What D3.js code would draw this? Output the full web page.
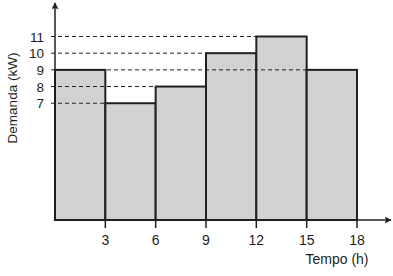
<html>
    <head>
        <meta charset="utf-8">
        <style>
            body { margin: 0; background: #fff; }
            text { font-family: "Liberation Sans", Arial, sans-serif; fill: #231f20; }
        </style>
    </head>
    <body>
        <svg width="393" height="276"></svg>
        <script src="https://cdn.jsdelivr.net/npm/d3@7/dist/d3.min.js"></script>
        <script>
            const starts = [0, 3, 6, 9, 12, 15];
            const demand = [9, 7, 8, 10, 11, 9];
            const xTicks = [3, 6, 9, 12, 15, 18];
            const yTicks = [7, 8, 9, 10, 11];

            const svg = d3.select('svg');
            const ink = '#231f20';

            const x = d3.scaleLinear().domain([0, 18]).range([55, 357]);
            const y = d3.scaleLinear().domain([0, 11]).range([220, 36.5]);

            // bars
            svg.selectAll('rect.bar')
                .data(starts)
                .enter().append('rect')
                .attr('class', 'bar')
                .attr('x', d => x(d))
                .attr('width', x(3) - x(0))
                .attr('y', (d, i) => y(demand[i]))
                .attr('height', (d, i) => y(0) - y(demand[i]))
                .attr('fill', '#d1d2d4')
                .attr('stroke', ink)
                .attr('stroke-width', 2);

            // dashed guides run to the (last) bar with that height
            const guideEnd = v => x(starts[demand.lastIndexOf(v)]);

            svg.selectAll('line.guide')
                .data(yTicks)
                .enter().append('line')
                .attr('x1', 51)
                .attr('x2', d => guideEnd(d))
                .attr('y1', d => y(d))
                .attr('y2', d => y(d))
                .attr('stroke', ink)
                .attr('stroke-width', 1)
                .attr('stroke-dasharray', '4,3');

            // axes
            svg.append('defs').append('marker')
                .attr('id', 'arrow')
                .attr('viewBox', '0 0 10 10')
                .attr('refX', 9).attr('refY', 5)
                .attr('markerWidth', 10).attr('markerHeight', 7)
                .attr('markerUnits', 'userSpaceOnUse')
                .attr('orient', 'auto')
                .append('path')
                .attr('d', 'M0,0L10,5L0,10L2,5Z')
                .attr('fill', ink);

            svg.append('line')
                .attr('x1', x(0)).attr('x2', x(0))
                .attr('y1', y(0) + 1).attr('y2', 3)
                .attr('stroke', ink).attr('stroke-width', 1.5)
                .attr('marker-end', 'url(#arrow)');

            svg.append('line')
                .attr('x1', x(0) - 1).attr('x2', 391)
                .attr('y1', y(0)).attr('y2', y(0))
                .attr('stroke', ink).attr('stroke-width', 1.5)
                .attr('marker-end', 'url(#arrow)');

            // x ticks
            svg.selectAll('line.xtick')
                .data(xTicks)
                .enter().append('line')
                .attr('x1', d => x(d)).attr('x2', d => x(d))
                .attr('y1', y(0)).attr('y2', y(0) + 8)
                .attr('stroke', ink).attr('stroke-width', 1.5);

            svg.selectAll('text.xlab')
                .data(xTicks)
                .enter().append('text')
                .attr('x', d => x(d))
                .attr('y', 245)
                .attr('text-anchor', 'middle')
                .attr('font-size', 14)
                .text(d => d);

            svg.selectAll('text.ylab')
                .data(yTicks)
                .enter().append('text')
                .attr('x', 44)
                .attr('y', d => y(d) + 5)
                .attr('text-anchor', 'end')
                .attr('font-size', 13.5)
                .text(d => d);

            svg.append('text')
                .attr('x', 337).attr('y', 264)
                .attr('text-anchor', 'middle')
                .attr('font-size', 14)
                .text('Tempo (h)');

            svg.append('text')
                .attr('transform', 'translate(17,98) rotate(-90)')
                .attr('text-anchor', 'middle')
                .attr('font-size', 13.5)
                .text('Demanda (kW)');
        </script>
    </body>
</html>
